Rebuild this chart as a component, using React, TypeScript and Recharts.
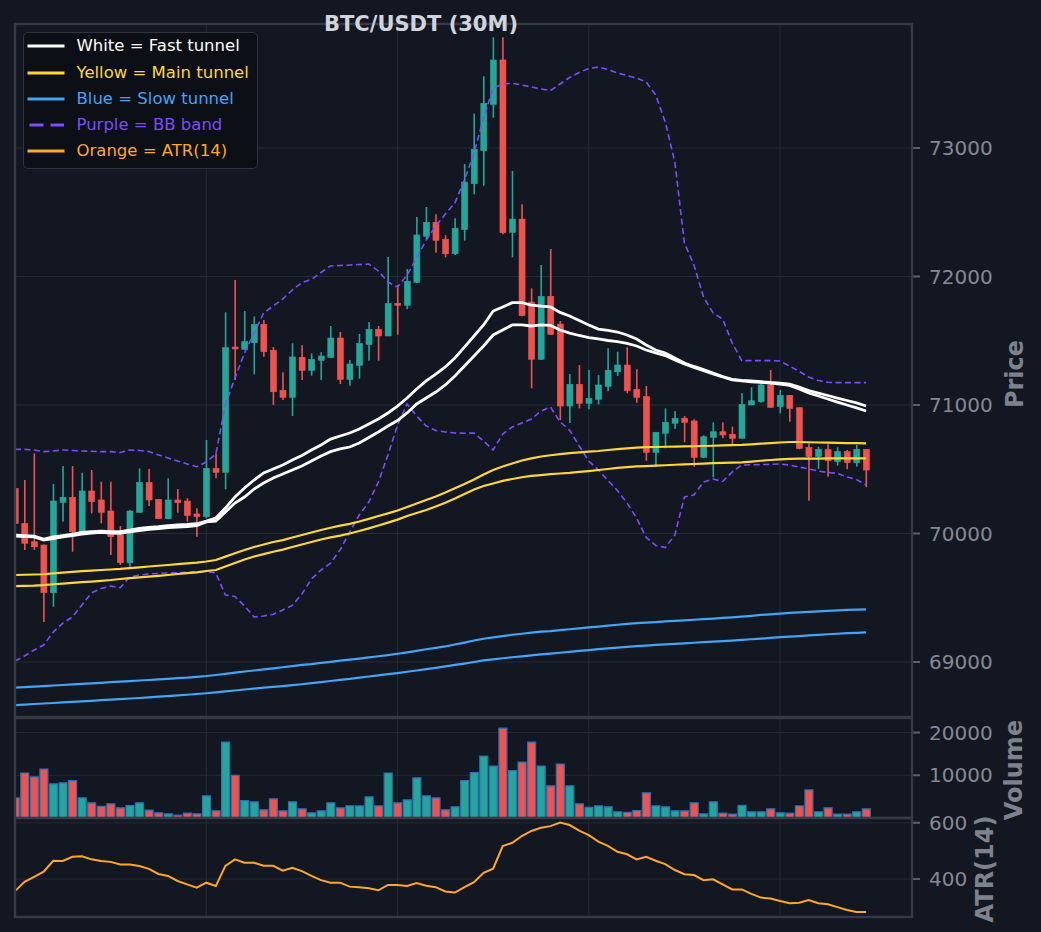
import React from 'react';
import { ComposedChart, Bar, Line, XAxis, YAxis, CartesianGrid, Cell } from 'recharts';

// ---------- data ----------
const OPEN = [
  70352, 70079, 69936, 69910, 69539, 70243, 70282, 70014, 70331, 70261,
  70175, 69988, 69773, 70165, 70398, 70266, 70115, 70261, 70253, 70152,
  70131, 70507, 70476, 71451, 71433, 71485, 71628, 71426, 71114, 71060,
  71371, 71270, 71348, 71371, 71521, 71200, 71309, 71472, 71589, 71537,
  71791, 71776, 71955, 72313, 72422, 72290, 72177, 72367, 72722, 72979,
  73340, 73685, 72344, 72447, 71801, 71356, 71846, 71630, 70992, 71161,
  71013, 71044, 71145, 71259, 71311, 71122, 71065, 70632, 70780, 70858,
  70897, 70876, 70593, 70749, 70792, 70772, 70741, 71000, 71026, 71156,
  70987, 71075, 70979, 70671, 70598, 70655, 70559, 70637, 70551, 70655,
];
const HIGH = [
  70377, 70416, 70624, 69915, 70385, 70525, 70525, 70473, 70494, 70403,
  70403, 70058, 70183, 70507, 70502, 70268, 70430, 70346, 70274, 70196,
  70728, 70624, 71721, 71973, 71731, 71690, 71661, 71451, 71254, 71480,
  71465, 71402, 71410, 71615, 71568, 71350, 71553, 71646, 71615, 72152,
  71934, 72058, 72463, 72541, 72484, 72321, 72453, 72875, 73267, 73558,
  73861, 73861, 72821, 72562, 71908, 72089, 72214, 71654, 71241, 71311,
  71272, 71233, 71442, 71415, 71449, 71278, 71148, 70790, 70974, 70953,
  70914, 70889, 70764, 70865, 70865, 70831, 71091, 71138, 71169, 71272,
  71117, 71078, 70981, 70702, 70675, 70694, 70671, 70650, 70689, 70655,
];
const LOW = [
  70058, 69872, 69872, 69311, 69430, 70092, 69858, 70004, 70157, 70079,
  69833, 69755, 69742, 70160, 70214, 70113, 70113, 70162, 70092, 69975,
  70118, 70430, 70344, 71195, 71430, 71239, 71376, 71000, 71039, 70914,
  71195, 71228, 71195, 71368, 71163, 71150, 71205, 71345, 71345, 71537,
  71547, 71745, 71950, 72290, 72185, 72149, 72167, 72279, 72640, 72707,
  73236, 72328, 72149, 71690, 71130, 71350, 71545, 70883, 70860, 70974,
  70967, 71005, 71107, 71226, 71091, 71018, 70566, 70520, 70663, 70813,
  70710, 70520, 70590, 70437, 70741, 70689, 70738, 70998, 71018, 70980,
  70935, 70870, 70655, 70255, 70502, 70442, 70528, 70500, 70520, 70360,
];
const CLOSE = [
  70079, 69924, 69897, 69539, 70253, 70282, 70014, 70331, 70248, 70165,
  69975, 69773, 70175, 70398, 70261, 70115, 70261, 70240, 70139, 70131,
  70507, 70476, 71446, 71436, 71493, 71628, 71415, 71103, 71060, 71374,
  71270, 71356, 71381, 71521, 71200, 71319, 71480, 71589, 71537, 71791,
  71776, 71963, 72323, 72422, 72282, 72177, 72375, 72735, 72990, 73348,
  73685, 72341, 72447, 71695, 71356, 71846, 71550, 70992, 71161, 71013,
  71052, 71156, 71270, 71311, 71111, 71060, 70632, 70788, 70865, 70897,
  70865, 70593, 70753, 70792, 70767, 70741, 71005, 71033, 71156, 70982,
  71075, 70974, 70663, 70598, 70655, 70566, 70637, 70551, 70655, 70494,
];
const VOLUME = [
  4700, 10530, 9600, 11460, 7970, 8200, 8740, 4700, 3540, 2750,
  3300, 2380, 2910, 3540, 1820, 1210, 980, 650, 1120, 980,
  5170, 1680, 17750, 9970, 4080, 3770, 1910, 4470, 1680, 3770,
  2140, 1210, 1680, 3540, 2380, 2840, 2840, 4940, 2840, 10530,
  3540, 4240, 9370, 5170, 4700, 1910, 2610, 8740, 10600, 14490,
  12160, 21020, 11070, 13090, 17750, 12160, 7500, 12630, 7500, 3300,
  2520, 2840, 2610, 1440, 1350, 1750, 5870, 2840, 2610, 1680,
  1680, 3540, 980, 3770, 1120, 890, 2980, 1440, 1440, 2140,
  1210, 1120, 2840, 6570, 1440, 2380, 890, 890, 1440, 2140,
];
const ATR = [
  357, 390, 408, 426, 465, 464, 479, 481, 470, 464,
  461, 452, 452, 446, 436, 418, 411, 393, 381, 369,
  387, 375, 447, 470, 458, 458, 447, 447, 430, 440,
  428, 411, 396, 387, 387, 373, 371, 367, 360, 379,
  379, 375, 386, 376, 371, 356, 352, 371, 389, 422,
  437, 517, 529, 553, 571, 582, 588, 601, 592, 572,
  556, 533, 518, 497, 488, 470, 479, 465, 453, 432,
  417, 414, 396, 399, 381, 363, 363, 347, 334, 331,
  322, 314, 316, 325, 314, 310, 300, 290, 283, 283,
];
const FAST_UP = [
  69988, 69984, 69980, 69957, 69973, 69984, 69996, 70008, 70015, 70019,
  70015, 70014, 70027, 70039, 70048, 70054, 70062, 70066, 70070, 70076,
  70097, 70120, 70198, 70284, 70354, 70416, 70471, 70502, 70533, 70572,
  70607, 70650, 70689, 70735, 70759, 70782, 70813, 70852, 70891, 70938,
  70992, 71054, 71125, 71187, 71241, 71296, 71366, 71451, 71537, 71623,
  71731, 71763, 71796, 71796, 71778, 71770, 71763, 71721, 71693, 71658,
  71623, 71591, 71580, 71568, 71545, 71514, 71467, 71428, 71405, 71366,
  71327, 71300, 71276, 71249, 71222, 71200, 71191, 71187, 71181, 71175,
  71171, 71163, 71140, 71113, 71093, 71074, 71054, 71035, 71016, 70992,
];
const FAST_LO = [
  69980, 69976, 69973, 69949, 69961, 69973, 69984, 69996, 70004, 70008,
  70004, 70001, 70012, 70023, 70032, 70039, 70046, 70050, 70054, 70061,
  70090, 70097, 70167, 70237, 70284, 70346, 70393, 70432, 70463, 70494,
  70525, 70564, 70603, 70637, 70658, 70673, 70704, 70747, 70790, 70837,
  70879, 70938, 71008, 71054, 71101, 71156, 71226, 71303, 71381, 71459,
  71545, 71584, 71623, 71623, 71615, 71623, 71619, 71584, 71560, 71541,
  71525, 71514, 71502, 71494, 71479, 71459, 71428, 71405, 71385, 71350,
  71319, 71292, 71268, 71241, 71218, 71195, 71187, 71181, 71177, 71171,
  71163, 71152, 71125, 71093, 71070, 71047, 71023, 71000, 70977, 70953,
];
const MAIN_UP = [
  69677, 69679, 69681, 69683, 69689, 69695, 69701, 69707, 69711, 69716,
  69720, 69724, 69730, 69737, 69743, 69749, 69755, 69761, 69767, 69773,
  69782, 69794, 69820, 69846, 69872, 69895, 69914, 69934, 69949, 69969,
  69988, 70008, 70027, 70045, 70061, 70075, 70093, 70114, 70136, 70157,
  70179, 70206, 70233, 70261, 70288, 70319, 70352, 70385, 70420, 70459,
  70494, 70521, 70545, 70568, 70585, 70599, 70609, 70617, 70625, 70632,
  70637, 70642, 70650, 70656, 70663, 70669, 70672, 70673, 70675, 70676,
  70678, 70679, 70681, 70683, 70686, 70688, 70690, 70694, 70699, 70703,
  70708, 70712, 70712, 70710, 70708, 70707, 70705, 70704, 70703, 70702,
];
const MAIN_LO = [
  69591, 69593, 69595, 69599, 69605, 69610, 69616, 69621, 69626, 69632,
  69638, 69646, 69652, 69658, 69664, 69670, 69677, 69685, 69691, 69698,
  69708, 69716, 69743, 69770, 69798, 69821, 69840, 69858, 69875, 69895,
  69914, 69934, 69953, 69970, 69984, 70000, 70019, 70040, 70062, 70085,
  70108, 70136, 70159, 70183, 70210, 70240, 70272, 70307, 70342, 70370,
  70389, 70409, 70424, 70438, 70448, 70455, 70462, 70467, 70472, 70479,
  70486, 70494, 70502, 70510, 70516, 70522, 70525, 70528, 70531, 70535,
  70538, 70541, 70544, 70547, 70549, 70552, 70554, 70560, 70566, 70572,
  70577, 70581, 70582, 70583, 70583, 70584, 70584, 70584, 70585, 70585,
];
const SLOW_UP = [
  68800, 68804, 68809, 68813, 68817, 68821, 68826, 68830, 68834, 68838,
  68843, 68847, 68851, 68856, 68860, 68865, 68869, 68874, 68878, 68885,
  68891, 68899, 68908, 68917, 68926, 68934, 68943, 68951, 68959, 68968,
  68977, 68984, 68993, 69001, 69010, 69019, 69027, 69036, 69045, 69054,
  69064, 69075, 69087, 69099, 69110, 69121, 69136, 69151, 69167, 69181,
  69192, 69202, 69212, 69220, 69229, 69236, 69241, 69248, 69255, 69262,
  69269, 69276, 69283, 69290, 69297, 69302, 69307, 69311, 69316, 69320,
  69324, 69329, 69334, 69338, 69343, 69348, 69353, 69359, 69366, 69371,
  69377, 69382, 69386, 69390, 69394, 69398, 69402, 69405, 69408, 69410,
];
const SLOW_LO = [
  68665, 68669, 68673, 68677, 68681, 68686, 68690, 68694, 68698, 68703,
  68707, 68711, 68716, 68720, 68725, 68730, 68735, 68740, 68745, 68751,
  68757, 68764, 68771, 68778, 68786, 68793, 68800, 68806, 68813, 68820,
  68827, 68835, 68844, 68852, 68861, 68869, 68879, 68887, 68896, 68905,
  68914, 68924, 68934, 68945, 68955, 68966, 68977, 68988, 69000, 69012,
  69021, 69029, 69037, 69044, 69052, 69059, 69065, 69072, 69079, 69086,
  69093, 69100, 69106, 69112, 69118, 69124, 69128, 69133, 69137, 69141,
  69145, 69150, 69154, 69159, 69163, 69167, 69172, 69177, 69182, 69188,
  69193, 69198, 69202, 69207, 69211, 69216, 69220, 69224, 69227, 69231,
];
const BB_UP = [
  70655, 70655, 70650, 70637, 70642, 70650, 70646, 70642, 70640, 70637,
  70637, 70630, 70650, 70646, 70638, 70611, 70588, 70564, 70541, 70520,
  70556, 70618, 71000, 71210, 71405, 71560, 71716, 71770, 71825, 71895,
  71953, 71977, 72031, 72082, 72086, 72089, 72093, 72097, 72043, 71957,
  71918, 72011, 72144, 72284, 72393, 72486, 72572, 72751, 72961, 73233,
  73467, 73498, 73503, 73490, 73475, 73459, 73447, 73498, 73549, 73588,
  73619, 73630, 73611, 73584, 73564, 73545, 73514, 73412, 73202, 72891,
  72261, 72089, 71840, 71716, 71669, 71482, 71345, 71345, 71345, 71345,
  71342, 71303, 71261, 71218, 71191, 71177, 71174, 71174, 71174, 71174,
];
const BB_LO = [
  69008, 69047, 69093, 69132, 69233, 69303, 69350, 69444, 69537, 69572,
  69591, 69578, 69661, 69677, 69685, 69689, 69693, 69695, 69699, 69703,
  69703, 69693, 69521, 69510, 69436, 69350, 69358, 69371, 69405, 69440,
  69529, 69646, 69716, 69770, 69872, 70012, 70144, 70245, 70401, 70611,
  70844, 71008, 70914, 70837, 70801, 70790, 70782, 70780, 70782, 70720,
  70650, 70774, 70829, 70860, 70891, 70953, 70984, 70868, 70805, 70681,
  70564, 70494, 70413, 70335, 70237, 70120, 69969, 69907, 69891, 69988,
  70284, 70300, 70401, 70424, 70405, 70479, 70533, 70535, 70536, 70538,
  70541, 70533, 70517, 70502, 70486, 70475, 70468, 70440, 70420, 70377,
];

const PRICE_TICKS = [69000, 70000, 71000, 72000, 73000];
const VOLUME_TICKS = [10000, 20000];
const ATR_TICKS = [400, 600];
const X_TICKS = [0, 20, 40, 60, 80];

const LEGEND_ITEMS = [
  { label: 'White = Fast tunnel', color: '#ffffff', dashed: false },
  { label: 'Yellow = Main tunnel', color: '#fdd835', dashed: false },
  { label: 'Blue = Slow tunnel', color: '#42a5f5', dashed: false },
  { label: 'Purple = BB band', color: '#7c4dff', dashed: true },
  { label: 'Orange = ATR(14)', color: '#ffa726', dashed: false },
];

// ---------- styling ----------
const BG = '#131722';
const GRID = '#262a35';
const FRAME = '#363a45';
const UP = '#26a69a';
const DOWN = '#ef5350';
const TICK_COLOR = '#868993';
const FONT = 'DejaVu Sans, Verdana, sans-serif';
const W = 1041;
const PAD = 20; // extra room above each lower panel so tick labels are not clipped

const rows = OPEN.map((o, i) => ({
  i,
  open: o,
  high: HIGH[i],
  low: LOW[i],
  close: CLOSE[i],
  volume: VOLUME[i],
  atr: ATR[i],
  fastUp: FAST_UP[i],
  fastLo: FAST_LO[i],
  mainUp: MAIN_UP[i],
  mainLo: MAIN_LO[i],
  slowUp: SLOW_UP[i],
  slowLo: SLOW_LO[i],
  bbUp: BB_UP[i],
  bbLo: BB_LO[i],
}));

const tickStyle = { fill: TICK_COLOR, fontSize: 20, fontFamily: FONT };

const Candle = (props: any) => {
  const { x, y, width, height, payload } = props;
  if (!payload || height == null) return null;
  const { open, close, high, low } = payload;
  const up = close >= open;
  const color = up ? UP : DOWN;
  const top = Math.min(y, y + height);
  const h = Math.abs(height);
  const k = high - low > 0 ? h / (high - low) : 0;
  const yO = top + (high - open) * k;
  const yC = top + (high - close) * k;
  const bTop = Math.min(yO, yC);
  const bH = Math.max(Math.abs(yO - yC), 1.2);
  const cx = x + width / 2;
  return (
    <g>
      <line x1={cx} x2={cx} y1={top} y2={top + h} stroke={color} strokeWidth={1.6} />
      <rect x={x} y={bTop} width={width} height={bH} fill={color} stroke={color} strokeWidth={0.6} />
    </g>
  );
};

const xAxisEl = (
  <XAxis
    type="number"
    dataKey="i"
    domain={[0, 93.8]}
    ticks={X_TICKS}
    allowDataOverflow
    hide
  />
);

const yAxisProps = {
  orientation: 'right' as const,
  width: 129,
  allowDataOverflow: true,
  axisLine: false,
  tickLine: { stroke: '#5d606b', strokeWidth: 2 },
  tickSize: 8,
  tickMargin: 9,
  tick: tickStyle,
  tickFormatter: (v: number) => String(v),
};

export default function App() {
  return (
    <div
      style={{
        position: 'fixed',
        left: 0,
        top: 0,
        width: W,
        height: 932,
        background: BG,
        overflow: 'hidden',
        fontFamily: FONT,
      }}
    >
      {/* Price panel */}
      <div style={{ position: 'absolute', left: 0, top: 0 }}>
        <ComposedChart width={W} height={717} data={rows} margin={{ top: 24, right: 0, bottom: 0, left: 15 }}>
          <CartesianGrid stroke={GRID} strokeWidth={1} />
          {xAxisEl}
          <YAxis {...yAxisProps} domain={[68572, 73965]} ticks={PRICE_TICKS} />
          <Bar
            dataKey={(d: any) => [d.low, d.high]}
            barSize={6}
            shape={(p: any) => <Candle {...p} />}
            isAnimationActive={false}
          />
          <Line dataKey="bbUp" stroke="#7c4dff" strokeWidth={1.6} strokeDasharray="6 3.5" dot={false} isAnimationActive={false} />
          <Line dataKey="bbLo" stroke="#7c4dff" strokeWidth={1.6} strokeDasharray="6 3.5" dot={false} isAnimationActive={false} />
          <Line dataKey="slowUp" stroke="#42a5f5" strokeWidth={2.2} dot={false} isAnimationActive={false} />
          <Line dataKey="slowLo" stroke="#42a5f5" strokeWidth={2.2} dot={false} isAnimationActive={false} />
          <Line dataKey="mainUp" stroke="#fdd835" strokeWidth={2.2} dot={false} isAnimationActive={false} />
          <Line dataKey="mainLo" stroke="#fdd835" strokeWidth={2.2} dot={false} isAnimationActive={false} />
          <Line dataKey="fastUp" stroke="#ffffff" strokeWidth={2.8} dot={false} isAnimationActive={false} />
          <Line dataKey="fastLo" stroke="#ffffff" strokeWidth={2.8} dot={false} isAnimationActive={false} />
        </ComposedChart>
      </div>

      {/* Volume panel */}
      <div style={{ position: 'absolute', left: 0, top: 718 - PAD }}>
        <ComposedChart width={W} height={100 + PAD} data={rows} margin={{ top: PAD, right: 0, bottom: 0, left: 15 }}>
          <CartesianGrid stroke={GRID} strokeWidth={1} />
          {xAxisEl}
          <YAxis {...yAxisProps} domain={[0, 23400]} ticks={VOLUME_TICKS} />
          <Bar dataKey="volume" barSize={8} stroke="#2c72b4" strokeWidth={1.2} isAnimationActive={false}>
            {rows.map((r) => (
              <Cell key={r.i} fill={r.close >= r.open ? UP : DOWN} />
            ))}
          </Bar>
        </ComposedChart>
      </div>

      {/* ATR panel */}
      <div style={{ position: 'absolute', left: 0, top: 818 - PAD }}>
        <ComposedChart width={W} height={99 + PAD} data={rows} margin={{ top: PAD, right: 0, bottom: 0, left: 15 }}>
          <CartesianGrid stroke={GRID} strokeWidth={1} />
          {xAxisEl}
          <YAxis {...yAxisProps} domain={[265, 617]} ticks={ATR_TICKS} />
          <Line dataKey="atr" stroke="#ffa726" strokeWidth={2} dot={false} isAnimationActive={false} />
        </ComposedChart>
      </div>

      {/* frames, title, axis labels */}
      <svg
        width={W}
        height={932}
        style={{ position: 'absolute', left: 0, top: 0, pointerEvents: 'none' }}
      >
        <rect x={15} y={24} width={897} height={693} fill="none" stroke={FRAME} strokeWidth={2.4} />
        <rect x={15} y={718} width={897} height={100} fill="none" stroke={FRAME} strokeWidth={2.4} />
        <rect x={15} y={818} width={897} height={99} fill="none" stroke={FRAME} strokeWidth={2.4} />
        <text x={421} y={31} textAnchor="middle" fontFamily={FONT} fontWeight="bold" fontSize={21} fill="#d1d4dc">
          BTC/USDT (30M)
        </text>
        <text
          x={1023}
          y={374}
          transform="rotate(-90 1023 374)"
          textAnchor="middle"
          fontFamily={FONT}
          fontWeight="bold"
          fontSize={24}
          fill="#7e828c"
        >
          Price
        </text>
        <text
          x={1022}
          y={770}
          transform="rotate(-90 1022 770)"
          textAnchor="middle"
          fontFamily={FONT}
          fontWeight="bold"
          fontSize={24}
          fill="#7e828c"
        >
          Volume
        </text>
        <text
          x={993}
          y={869}
          transform="rotate(-90 993 869)"
          textAnchor="middle"
          fontFamily={FONT}
          fontWeight="bold"
          fontSize={24}
          fill="#7e828c"
        >
          ATR(14)
        </text>
      </svg>

      {/* legend */}
      <div
        style={{
          position: 'absolute',
          left: 23,
          top: 32,
          width: 235,
          height: 137,
          boxSizing: 'border-box',
          background: 'rgba(12,14,20,0.9)',
          border: '1.5px solid #30343f',
          borderRadius: 5,
        }}
      >
        {LEGEND_ITEMS.map((item, k) => (
          <div key={item.label} style={{ position: 'absolute', left: 0, top: 13.2 + k * 26.3 - 13, height: 26, width: 230 }}>
            <svg width={48} height={26} style={{ position: 'absolute', left: 0, top: 0 }}>
              <line
                x1={item.dashed ? 5.5 : 3.5}
                x2={item.dashed ? 40 : 40.5}
                y1={13}
                y2={13}
                stroke={item.color}
                strokeWidth={3.2}
                strokeDasharray={item.dashed ? '14 7' : undefined}
              />
            </svg>
            <span
              style={{
                position: 'absolute',
                left: 52.5,
                top: 0,
                lineHeight: '26px',
                fontSize: 16.5,
                color: item.color,
                whiteSpace: 'nowrap',
                fontFamily: FONT,
              }}
            >
              {item.label}
            </span>
          </div>
        ))}
      </div>
    </div>
  );
}
